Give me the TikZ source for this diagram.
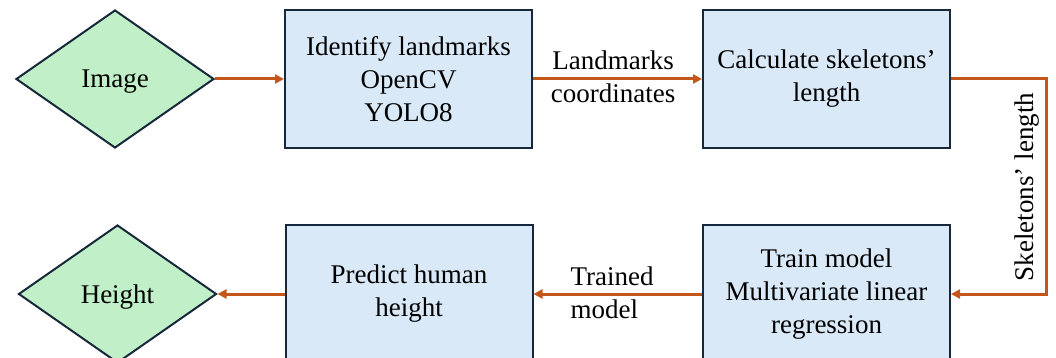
\documentclass[tikz,border=0pt]{standalone}
\usepackage{fontspec}
\setmainfont{Liberation Serif}
\usetikzlibrary{shapes.geometric,arrows.meta}
\definecolor{dgreen}{HTML}{C1F0C8}
\definecolor{dblue}{HTML}{DAE9F7}
\definecolor{edge}{HTML}{16283A}
\definecolor{flow}{HTML}{C4561A}
\tikzset{
  decide/.style={diamond, draw=edge, line width=2pt, fill=dgreen, minimum width=198pt, minimum height=138pt, inner sep=0pt, font=\fontsize{27}{33}\selectfont},
  procbox/.style={rectangle, draw=edge, line width=2pt, fill=dblue, minimum width=247pt, minimum height=138pt, align=center, inner sep=0pt, font=\fontsize{27}{33}\selectfont},
  flowarrow/.style={draw=flow, line width=3pt, -{Triangle[length=9pt,width=9pt]}},
  lbl/.style={font=\fontsize{27}{33}\selectfont, inner sep=0pt}
}
\begin{document}
\begin{tikzpicture}[x=1pt,y=-1pt]
\useasboundingbox (0,0) rectangle (1056,358);
\clip (0,0) rectangle (1056,358);
\node[decide] (img) at (115,79) {\raisebox{-9pt}[0pt][0pt]{Image}};
\node[procbox] (b1) at (408.5,79) {Identify landmarks\\OpenCV\\YOLO8};
\node[procbox] (b2) at (826.5,79) {Calculate skeletons'\\length};
\node[procbox] (b4) at (826.5,294) {Train model\\Multivariate linear\\regression};
\node[procbox] (b3) at (409,294) {Predict human\\height};
\node[decide] (hgt) at (117.5,294) {\raisebox{-9pt}[0pt][0pt]{Height}};
\coordinate (c1) at (1046,79);
\coordinate (c2) at (1046,294);
\draw[flowarrow] (img.east) -- (b1.west);
\draw[flowarrow] (b1.east) -- (b2.west);
\draw[flowarrow] (b2.east) -- (c1) -- (c2) -- (b4.east);
\draw[flowarrow] (b4.west) -- (b3.west -| b3.east);
\draw[flowarrow] (b3.west) -- (hgt.east);
\node[lbl, align=center] (l1) at (613,77) {Landmarks\\coordinates};
\node[lbl, rotate=90] (l2) at (1027,187) {Skeletons' length};
\node[lbl, align=left] (l3) at (612,293) {Trained\\model};
\end{tikzpicture}
\end{document}
